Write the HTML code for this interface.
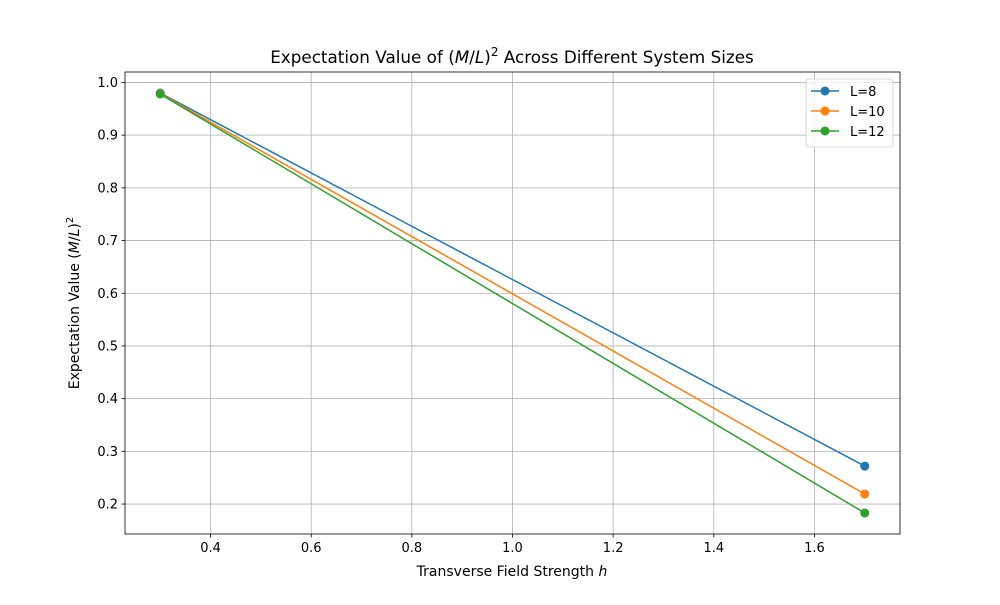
<!DOCTYPE html>
<html><head><meta charset="utf-8"><style>
body{margin:0;background:#fff;}
svg{font-family:"DejaVu Sans","Liberation Sans",sans-serif;}
</style></head><body>
<svg id="chart" width="1000" height="600" xmlns="http://www.w3.org/2000/svg">
<rect width="1000" height="600" fill="#fff"/>
<g id="grid"></g>
<g id="axes"></g>
<g id="series"></g>
<text x="512" y="63" font-size="16.8" text-anchor="middle">Expectation Value of (<tspan font-style="italic">M</tspan>/<tspan font-style="italic">L</tspan>)<tspan dy="-7" font-size="12">2</tspan><tspan dy="7"> Across Different System Sizes</tspan></text>
<text x="512" y="576" font-size="14" text-anchor="middle">Transverse Field Strength <tspan font-style="italic">h</tspan></text>
<text transform="translate(79,303) rotate(-90)" font-size="14" text-anchor="middle">Expectation Value (<tspan font-style="italic">M</tspan>/<tspan font-style="italic">L</tspan>)<tspan dy="-6" font-size="10">2</tspan></text>
<g id="legend"></g>
</svg>
<script>
const hValues = [0.3, 1.7];
const seriesNames = ["L=8", "L=10", "L=12"];
const seriesL8 = [0.980, 0.272];
const seriesL10 = [0.979, 0.219];
const seriesL12 = [0.978, 0.183];
const xTicks = [0.4, 0.6, 0.8, 1.0, 1.2, 1.4, 1.6];
const yTicks = [0.2, 0.3, 0.4, 0.5, 0.6, 0.7, 0.8, 0.9, 1.0];
const colors = ["#1f77b4", "#ff7f0e", "#2ca02c"];

const NS = "http://www.w3.org/2000/svg";
const L = 125, R = 900, T = 72, B = 534;
const allY = seriesL8.concat(seriesL10, seriesL12);
const xmin0 = Math.min(...hValues), xmax0 = Math.max(...hValues);
const ymin0 = Math.min(...allY), ymax0 = Math.max(...allY);
const xpad = (xmax0 - xmin0) * 0.05, ypad = (ymax0 - ymin0) * 0.05;
const xmin = xmin0 - xpad, xmax = xmax0 + xpad, ymin = ymin0 - ypad, ymax = ymax0 + ypad;
const sx = v => L + (v - xmin) / (xmax - xmin) * (R - L);
const sy = v => B - (v - ymin) / (ymax - ymin) * (B - T);
function mk(tag, attrs, parent) {
  const e = document.createElementNS(NS, tag);
  for (const k in attrs) e.setAttribute(k, attrs[k]);
  parent.appendChild(e); return e;
}
const grid = document.getElementById("grid"), axes = document.getElementById("axes");
xTicks.forEach(t => {
  const x = sx(t);
  const g = mk("line", {x1: x, x2: x, y1: T, y2: B, stroke: "#b0b0b0", "stroke-width": 0.8}, grid);
  
  
  mk("line", {x1: x, x2: x, y1: B, y2: B + 3.5, stroke: "#000", "stroke-width": 0.8}, axes);
  const tx = mk("text", {x: x, y: B + 18, "font-size": 13, "text-anchor": "middle"}, axes);
  tx.textContent = t.toFixed(1);
  
  
});
yTicks.forEach(t => {
  const y = sy(t);
  const g = mk("line", {x1: L, x2: R, y1: y, y2: y, stroke: "#b0b0b0", "stroke-width": 0.8}, grid);
  
  
  mk("line", {x1: L - 3.5, x2: L, y1: y, y2: y, stroke: "#000", "stroke-width": 0.8}, axes);
  const tx = mk("text", {x: L - 7, y: y + 4.5, "font-size": 13, "text-anchor": "end"}, axes);
  tx.textContent = t.toFixed(1);
  
  
});
const frame = mk("rect", {x: L, y: T, width: R - L, height: B - T, fill: "none", stroke: "#000", "stroke-width": 0.8}, axes);



const ser = document.getElementById("series");
[seriesL8, seriesL10, seriesL12].forEach((vals, i) => {
  const g = mk("g", {}, ser);
  
  
  const pts = vals.map((v, j) => sx(hValues[j]) + "," + sy(v)).join(" ");
  const pl = mk("polyline", {points: pts, fill: "none", stroke: colors[i], "stroke-width": 1.5}, g);
  
  
  vals.forEach((v, j) => {
    const c = mk("circle", {cx: sx(hValues[j]), cy: sy(v), r: 4.5, fill: colors[i]}, g);
    
    
  });
});

const leg = document.getElementById("legend");
mk("rect", {x: 806, y: 79, width: 87, height: 68, rx: 3, fill: "#fff", "fill-opacity": 0.8, stroke: "#ccc", "stroke-width": 0.8}, leg);
seriesNames.forEach((n, i) => {
  const y = 91 + i * 20;
  const e = mk("g", {}, leg);
  
  
  mk("line", {x1: 811, x2: 839, y1: y, y2: y, stroke: colors[i], "stroke-width": 1.5}, e);
  mk("circle", {cx: 825, cy: y, r: 4.5, fill: colors[i]}, e);
  const t = mk("text", {x: 850, y: y + 5, "font-size": 13}, e);
  t.textContent = n;
});
</script>
</body></html>
